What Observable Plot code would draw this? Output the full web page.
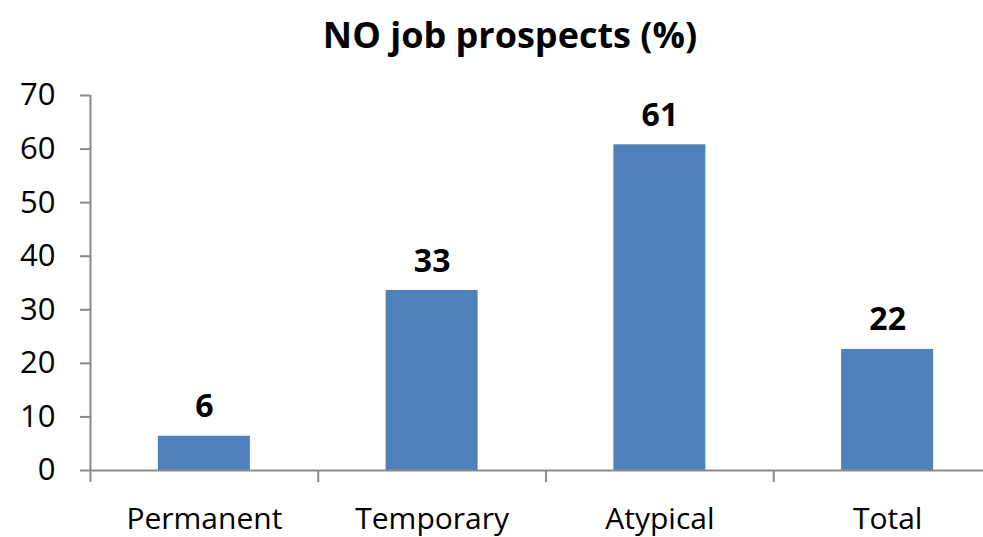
<!DOCTYPE html>
<html>
<head>
<meta charset="utf-8">
<script src="https://cdn.jsdelivr.net/npm/d3@7"></script>
<script src="https://cdn.jsdelivr.net/npm/@observablehq/plot@0.6"></script>
<style>
  html, body { margin: 0; padding: 0; background: #fff; }
  #wrap { position: relative; width: 983px; height: 537px; overflow: hidden; font-family: "Open Sans", sans-serif; }
  #title { position: absolute; left: 510px; top: 10px; transform: translateX(-50%); white-space: nowrap;
           font-weight: bold; font-size: 36px; line-height: 50px; color: #000; }
  #chart { position: absolute; left: 0; top: 70px; }
</style>
</head>
<body>
<div id="wrap">
  <div id="title">NO job prospects (%)</div>
  <div id="chart"></div>
</div>
<script>
const categories = ["Permanent", "Temporary", "Atypical", "Total"];
const values = [6.4, 33.6, 60.8, 22.6];
const valueLabels = ["6", "33", "61", "22"];
const yTicks = [0, 10, 20, 30, 40, 50, 60, 70];

const data = categories.map((c, i) => ({category: c, index: i, value: values[i], label: valueLabels[i]}));
const gap = 0.298; // half gap fraction on each side of a bar within its category slot
const boundaries = d3.range(categories.length + 1);
const centers = categories.map((c, i) => i + 0.5);
const axisColor = "#8a8a8a";

const chart = Plot.plot({
  width: 983,
  height: 467,
  marginLeft: 90,
  marginRight: -18,
  marginTop: 25,
  marginBottom: 67,
  style: {fontFamily: "Open Sans, sans-serif", fontSize: "30px", color: "#000", background: "transparent"},
  x: {domain: [0, categories.length], axis: null},
  y: {domain: [0, 70], axis: null},
  marks: [
    Plot.rectY(data, {x1: d => d.index + gap, x2: d => d.index + 1 - gap, y1: 0, y2: "value", fill: "#4F81BD"}),
    Plot.ruleY([0], {stroke: axisColor, strokeWidth: 2}),
    Plot.ruleX([0], {y1: 0, y2: 70, stroke: axisColor, strokeWidth: 2}),
    Plot.axisY({ticks: yTicks, tickSize: 10, tickPadding: 25, stroke: axisColor, strokeWidth: 2, label: null, fontSize: 31, fill: "#000"}),
    Plot.axisX({ticks: boundaries, tickSize: 12, tickFormat: () => "", stroke: axisColor, strokeWidth: 2, label: null}),
    Plot.axisX({ticks: centers, tickSize: 0, tickPadding: 37, tickFormat: (d) => categories[Math.floor(d)], label: null, fontSize: 30, fill: "#000"}),
    Plot.text(data, {x: d => d.index + 0.5, y: "value", text: "label", lineAnchor: "bottom", dy: -19, fontWeight: "bold", fontSize: 32, fill: "#000"})
  ]
});
document.getElementById("chart").appendChild(chart);
</script>
</body>
</html>
